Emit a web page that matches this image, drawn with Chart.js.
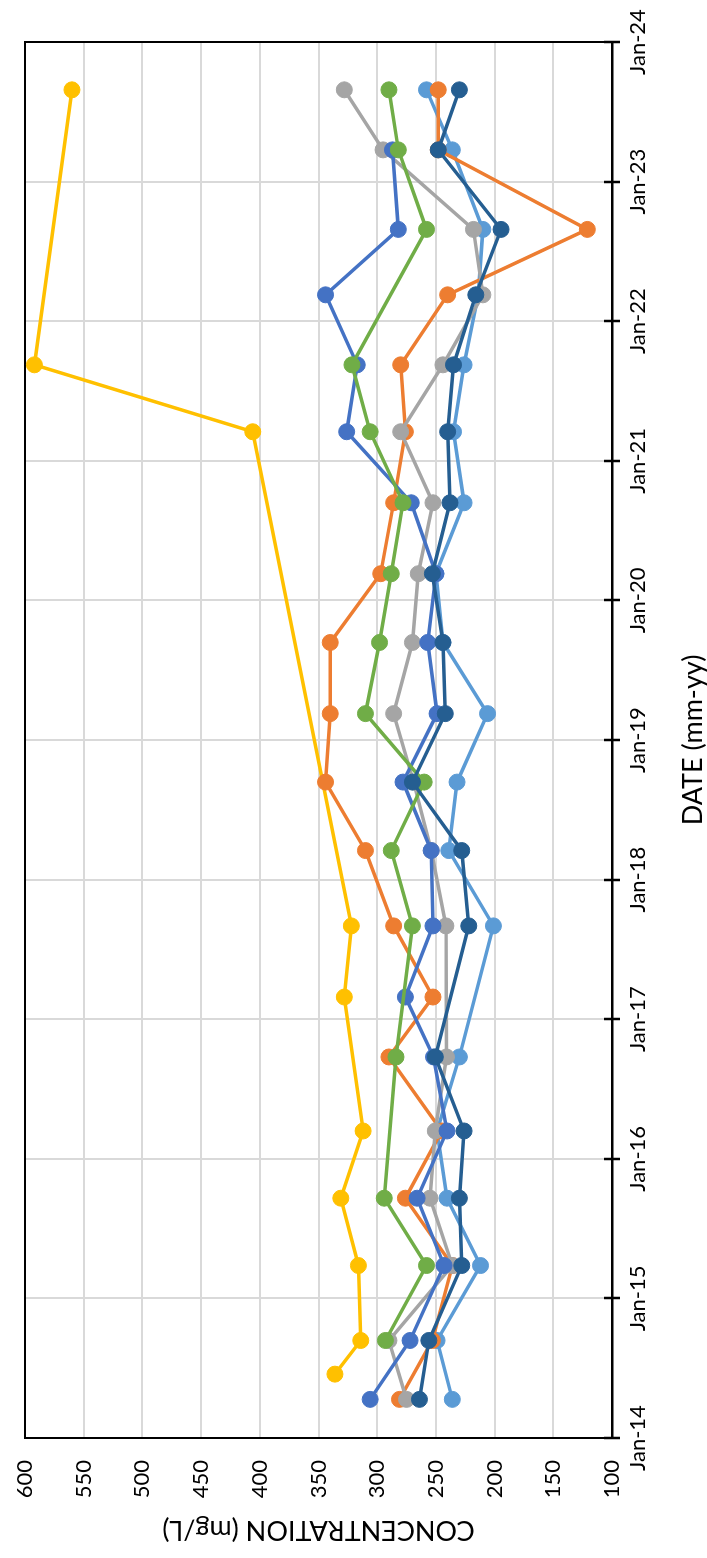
<!DOCTYPE html>
<html>
<head>
<meta charset="utf-8">
<script src="https://cdn.jsdelivr.net/npm/chart.js@4/dist/chart.umd.min.js"></script>
<style>
  html, body { margin: 0; padding: 0; background: #fff; overflow: hidden; }
  body { width: 707px; height: 1558px; position: relative; }
  /* chart is laid out landscape, then turned a quarter turn counter-clockwise */
  #wrap {
    position: absolute; left: 0; top: 0;
    width: 1558px; height: 707px;
    transform-origin: 0 0;
    transform: translate(0, 1558px) rotate(-90deg);
  }
  canvas { display: block; }
</style>
</head>
<body>
<div id="wrap"><canvas id="c" width="1558" height="707"></canvas></div>
<script>
// Sampling dates
const sampleDates = ["2014-04-12","2014-06-17","2014-09-13","2015-03-28","2015-09-20","2016-03-14",
  "2016-09-24","2017-02-28","2017-09-02","2018-03-18","2018-09-13","2019-03-11","2019-09-13",
  "2020-03-11","2020-09-13","2021-03-18","2021-09-09","2022-03-11","2022-08-29","2023-03-25","2023-08-29"];

// Concentrations (mg/L) per monitoring point; null = not sampled
const seriesBlue      = [306, null, 272, 243, 266, 240.5, 252, 276, 252.5, 254, 278, 249, 257, 250, 271, 326, 317, 344, 282, 287, null];
const seriesOrange    = [281, null, 253, 236, 276, 245, 290, 252.5, 286, 310, 344, 340, 340, 297, 286, 276, 280, 240, 121, 248, 248];
const seriesGray      = [275, null, 290, 236, 255, 250.5, 241, null, 241.5, 254, 269, 286, 270, 265, 252.5, 280, 244, 210, 218, 295, 328];
const seriesYellow    = [null, 336, 314, 316, 331, 312, null, 328, 322, null, null, null, null, null, null, 406, 592, null, null, null, 560];
const seriesLightBlue = [236, null, 249, 212, 240.5, 249, 230, null, 201, 239, 232, 206, 244, 250, 226, 235, 226, 214, 210, 236, 258];
const seriesGreen     = [null, null, 293, 258, 294, null, 284, null, 270, 288, 260, 310, 298, 288, 278, 306, 321.5, null, 258, 282, 290];
const seriesDarkBlue  = [264, null, 256, 228, 230, 226, 250.5, null, 222, 228, 270, 242, 244, 253, 238, 240, 235, 216, 194.5, 248, 230];

// Axis tick labels
const yearTicks = ["Jan-14","Jan-15","Jan-16","Jan-17","Jan-18","Jan-19","Jan-20","Jan-21","Jan-22","Jan-23","Jan-24"];
const concMin = 100, concMax = 600, concStep = 50;

function toYear(s) {
  const [y, m, d] = s.split('-').map(Number);
  const start = Date.UTC(y, 0, 1), end = Date.UTC(y + 1, 0, 1);
  return y + (Date.UTC(y, m - 1, d) - start) / (end - start);
}
const xs = sampleDates.map(toYear);
const pts = arr => arr.map((v, i) => ({ x: xs[i], y: v }));

function ds(values, color, order) {
  return {
    data: pts(values),
    borderColor: color,
    backgroundColor: color,
    pointBackgroundColor: color,
    pointBorderColor: color,
    pointBorderWidth: 1,
    pointRadius: 8,
    pointHoverRadius: 8,
    borderWidth: 3.5,
    tension: 0,
    spanGaps: true,
    order: order
  };
}

const FONT = "Lato, 'Open Sans', 'DejaVu Sans', sans-serif";

// Plot frame plus tick marks crossing the date axis
const frame = {
  id: 'frame',
  beforeDatasetsDraw(chart) {
    const { ctx, chartArea: a, scales: { x } } = chart;
    ctx.save();
    ctx.strokeStyle = '#000';
    ctx.lineWidth = 2;
    ctx.strokeRect(a.left, a.top, a.right - a.left, a.bottom - a.top);
    ctx.lineWidth = 2.5;
    x.ticks.forEach(t => {
      const px = Math.round(x.getPixelForValue(t.value));
      ctx.beginPath();
      ctx.moveTo(px, a.bottom - 8);
      ctx.lineTo(px, a.bottom + 8);
      ctx.stroke();
    });
    ctx.restore();
  }
};

new Chart(document.getElementById('c'), {
  type: 'line',
  data: {
    datasets: [
      ds(seriesBlue, '#4472C4', 2),
      ds(seriesOrange, '#ED7D31', 4),
      ds(seriesGray, '#A5A5A5', 3),
      ds(seriesYellow, '#FFC000', 6),
      ds(seriesLightBlue, '#5B9BD5', 5),
      ds(seriesGreen, '#70AD47', 1),
      ds(seriesDarkBlue, '#255E91', 0)
    ]
  },
  options: {
    responsive: false,
    animation: false,
    devicePixelRatio: 1,
    layout: { padding: { left: 0, top: 25, right: 42, bottom: 0 } },
    plugins: { legend: { display: false }, tooltip: { enabled: false } },
    scales: {
      x: {
        type: 'linear',
        min: 2014, max: 2024,
        afterFit: s => { s.height = 95; },
        ticks: {
          stepSize: 1,
          autoSkip: false,
          maxRotation: 0,
          padding: 0,
          color: '#000',
          font: { family: FONT, size: 22 },
          callback: v => yearTicks[Math.round(v) - 2014]
        },
        grid: { color: '#D9D9D9', lineWidth: 2, drawTicks: true, tickLength: 13, tickColor: 'rgba(0,0,0,0)' },
        border: { display: true, color: '#000', width: 2.5 },
        title: {
          display: true,
          text: 'DATE (mm-yy)',
          color: '#000',
          font: { family: FONT, size: 27, lineHeight: 1 },
          padding: { top: 0, bottom: 0 }
        }
      },
      y: {
        min: concMin, max: concMax,
        afterFit: s => { s.width = 120; },
        ticks: {
          stepSize: concStep,
          padding: 0,
          color: '#000',
          font: { family: FONT, size: 22 }
        },
        grid: { color: '#D9D9D9', lineWidth: 2, drawTicks: true, tickLength: 22, tickColor: 'rgba(0,0,0,0)' },
        border: { display: true, color: '#000', width: 2 },
        title: {
          display: true,
          text: 'CONCENTRATION (mg/L)',
          color: '#000',
          font: { family: FONT, size: 27, lineHeight: 1 },
          padding: { top: 15, bottom: 0 }
        }
      }
    }
  },
  plugins: [frame]
});
</script>
</body>
</html>
